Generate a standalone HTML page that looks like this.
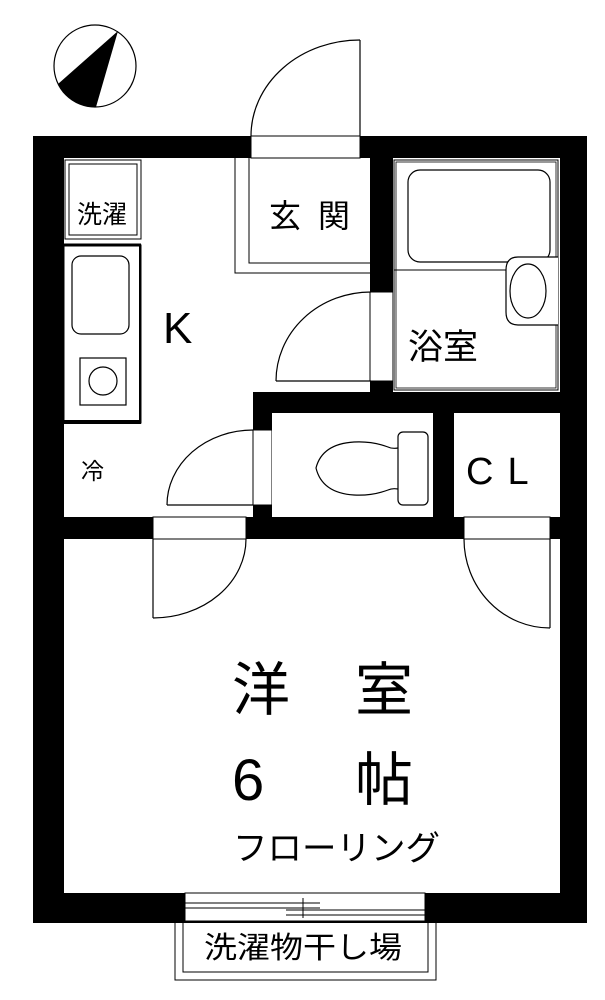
<!DOCTYPE html>
<html><head><meta charset="utf-8"><style>
html,body{margin:0;padding:0;background:#fff}
svg{display:block}
text{font-family:"Liberation Sans","Noto Sans CJK JP",sans-serif;fill:#000}
</style></head><body>
<svg width="605" height="1000" viewBox="0 0 605 1000" xmlns="http://www.w3.org/2000/svg">
<circle cx="95" cy="66" r="41" fill="#fff" stroke="#000" stroke-width="1.2"/>
<path d="M118,31 L58,84 A41,41 0 0 0 96,107 Z" fill="#000"/>

<rect x="33" y="136" width="554" height="787" fill="#000"/>
<rect x="64" y="158" width="496" height="735" fill="#fff"/>

<rect x="251" y="136" width="109" height="22" fill="#fff" stroke="#000" stroke-width="1"/>
<line x1="360" y1="40" x2="360" y2="136" stroke="#000" stroke-width="1.2"/>
<path d="M360,40 A109,96 0 0 0 251,136" fill="none" stroke="#000" stroke-width="1.2"/>

<path d="M235,158 L235,273 L370,273" fill="none" stroke="#000" stroke-width="1"/>
<path d="M249,158 L249,263 L370,263" fill="none" stroke="#000" stroke-width="1"/>
<text x="269" y="227" font-size="32">玄</text>
<text x="318" y="227" font-size="32">関</text>

<rect x="370" y="136" width="23" height="156" fill="#000"/>
<rect x="370" y="292" width="23" height="89" fill="#fff" stroke="#000" stroke-width="1"/>
<rect x="370" y="381" width="23" height="32" fill="#000"/>
<rect x="253" y="392" width="307" height="21" fill="#000"/>
<line x1="276" y1="381" x2="371" y2="381" stroke="#000" stroke-width="1.2"/>
<path d="M276,381 A95,89 0 0 1 371,292" fill="none" stroke="#000" stroke-width="1.2"/>

<rect x="393" y="158" width="167" height="234" fill="#fff"/>
<rect x="394" y="160" width="164" height="230" fill="none" stroke="#000" stroke-width="1"/>
<rect x="396" y="162" width="160" height="226" fill="none" stroke="#000" stroke-width="0.8"/>
<rect x="408" y="170" width="142" height="92" rx="12" fill="none" stroke="#000" stroke-width="1.2"/>
<line x1="394" y1="270" x2="506" y2="270" stroke="#000" stroke-width="1"/>
<path d="M558,257 L518,257 Q506,257 506,270 L506,312 Q506,325 518,325 L558,325" fill="#fff" stroke="#000" stroke-width="1.2"/>
<ellipse cx="528" cy="291" rx="18" ry="27" fill="none" stroke="#000" stroke-width="1.2"/>
<text x="408" y="359" font-size="35">浴室</text>

<rect x="65" y="160" width="76" height="79" fill="none" stroke="#000" stroke-width="1"/>
<rect x="69" y="164" width="68" height="71" fill="none" stroke="#000" stroke-width="1"/>
<text x="77" y="223" font-size="25">洗濯</text>

<rect x="64" y="245" width="77" height="178" fill="none" stroke="#000" stroke-width="1"/>
<line x1="64" y1="245" x2="141" y2="245" stroke="#000" stroke-width="3"/>
<line x1="64" y1="422" x2="141" y2="422" stroke="#000" stroke-width="4"/>
<line x1="140" y1="245" x2="140" y2="422" stroke="#000" stroke-width="2"/>
<rect x="72" y="256" width="57" height="78" rx="9" fill="none" stroke="#000" stroke-width="1.2"/>
<rect x="80" y="358" width="46" height="47" fill="none" stroke="#000" stroke-width="1.2"/>
<circle cx="103" cy="381" r="14" fill="none" stroke="#000" stroke-width="1.2"/>
<text x="163" y="343" font-size="44">K</text>
<text x="81" y="479" font-size="23">冷</text>

<rect x="253" y="392" width="19" height="38" fill="#000"/>
<rect x="253" y="430" width="19" height="75" fill="#fff" stroke="#000" stroke-width="1"/>
<rect x="253" y="505" width="19" height="12" fill="#000"/>
<line x1="167" y1="505" x2="253" y2="505" stroke="#000" stroke-width="1.2"/>
<path d="M167,505 A86,75 0 0 1 253,430" fill="none" stroke="#000" stroke-width="1.2"/>

<rect x="272" y="413" width="161" height="104" fill="#fff"/>
<rect x="433" y="413" width="21" height="104" fill="#000"/>
<rect x="454" y="413" width="106" height="104" fill="#fff"/>
<rect x="398" y="432" width="30" height="73" rx="5" fill="none" stroke="#000" stroke-width="1.2"/>
<path d="M398,448 Q392,449 388,447 Q372,441 354,442 Q322,444 316,468 Q322,493 354,495 Q372,496 388,490 Q392,488 398,489" fill="none" stroke="#000" stroke-width="1.2"/>
<text x="466" y="484" font-size="38" letter-spacing="14">CL</text>

<rect x="33" y="517" width="554" height="22" fill="#000"/>
<rect x="153" y="517" width="93" height="22" fill="#fff" stroke="#000" stroke-width="1"/>
<rect x="464" y="517" width="86" height="22" fill="#fff" stroke="#000" stroke-width="1"/>
<line x1="153" y1="539" x2="153" y2="618" stroke="#000" stroke-width="1.2"/>
<path d="M153,618 A93,79 0 0 0 246,539" fill="none" stroke="#000" stroke-width="1.2"/>
<line x1="550" y1="539" x2="550" y2="628" stroke="#000" stroke-width="1.2"/>
<path d="M464,539 A86,89 0 0 0 550,628" fill="none" stroke="#000" stroke-width="1.2"/>

<text x="232" y="710" font-size="58">洋</text>
<text x="355" y="710" font-size="58">室</text>
<text x="232" y="800" font-size="58">6</text>
<text x="355" y="800" font-size="58">帖</text>
<text x="233" y="860" font-size="34" textLength="207" lengthAdjust="spacingAndGlyphs">フローリング</text>

<rect x="185" y="893" width="240" height="28" fill="#fff" stroke="#000" stroke-width="1"/>
<line x1="185" y1="903" x2="320" y2="903" stroke="#000" stroke-width="1"/>
<line x1="185" y1="908" x2="320" y2="908" stroke="#000" stroke-width="1"/>
<line x1="286" y1="910" x2="425" y2="910" stroke="#000" stroke-width="1"/>
<line x1="286" y1="915" x2="425" y2="915" stroke="#000" stroke-width="1"/>
<line x1="303" y1="898" x2="303" y2="918" stroke="#000" stroke-width="1"/>

<path d="M175,921 L175,980 L436,980 L436,921" fill="none" stroke="#000" stroke-width="1"/>
<path d="M183,921 L183,972 L428,972 L428,921" fill="none" stroke="#000" stroke-width="1"/>
<text x="204" y="958" font-size="30" textLength="198" lengthAdjust="spacingAndGlyphs">洗濯物干し場</text>
</svg>
</body></html>
